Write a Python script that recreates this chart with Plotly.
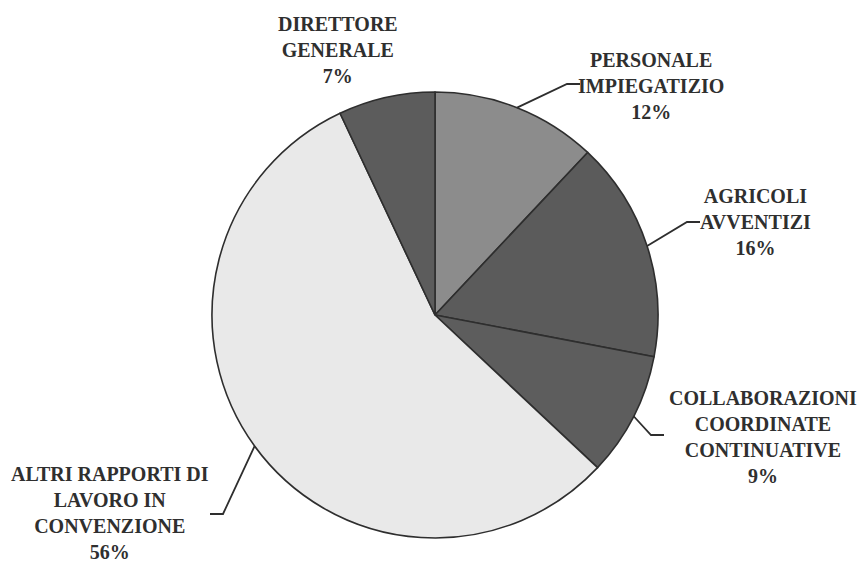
import math
import plotly.graph_objects as go

# ---- data ----
categories = ["PERSONALE IMPIEGATIZIO", "AGRICOLI AVVENTIZI",
              "COLLABORAZIONI COORDINATE CONTINUATIVE",
              "ALTRI RAPPORTI DI LAVORO IN CONVENZIONE", "DIRETTORE GENERALE"]
values = [12, 16, 9, 56, 7]
label_lines = [
    ["PERSONALE", "IMPIEGATIZIO"],
    ["AGRICOLI", "AVVENTIZI"],
    ["COLLABORAZIONI", "COORDINATE", "CONTINUATIVE"],
    ["ALTRI RAPPORTI DI", "LAVORO IN", "CONVENZIONE"],
    ["DIRETTORE", "GENERALE"],
]
colors = ["#8c8c8c", "#5b5b5b", "#5d5d5d", "#e9e9e9", "#5c5c5c"]

# ---- layout (pixels) ----
W, H = 861, 564
CX, CY, R = 435, 315, 223
# label block centres
label_pos = [(651, 86), (755, 222), (763, 437), (110, 513), (338, 50)]
# leader elbow and end (None = no leader)
leaders = [((567, 84), (580, 84)),
           ((687, 222), (700, 222)),
           ((651, 435), (664, 435)),
           ((223, 514), (210, 514)),
           None]

def px(x):
    return x / W

def py(y):
    return 1 - y / H

fig = go.Figure(go.Pie(
    labels=categories, values=values, sort=False, direction="clockwise",
    rotation=0, marker=dict(colors=colors, line=dict(color="#2e2e2e", width=1.6)),
    textinfo="none", hoverinfo="skip", showlegend=False,
    domain=dict(x=[px(CX - R), px(CX + R)], y=[py(CY + R), py(CY - R)]),
))

total = sum(values)
cum = 0
annotations = []
shapes = []
for i, v in enumerate(values):
    mid = (cum + v / 2) / total * 2 * math.pi
    cum += v
    sx = CX + R * math.sin(mid)
    sy = CY - R * math.cos(mid)
    pct = round(v / total * 100)
    lines = label_lines[i] + [f"{pct}%"]
    text = "<br>".join(f"<b>{ln}</b>" for ln in lines)
    lx, ly = label_pos[i]
    annotations.append(dict(
        x=px(lx), y=py(ly), xref="paper", yref="paper", text=text,
        showarrow=False, xanchor="center", yanchor="middle", align="center",
        font=dict(family="Liberation Serif", size=20, color="#2f2f2f"),
    ))
    if leaders[i] is not None:
        (ex, ey), (fx, fy) = leaders[i]
        shapes.append(dict(
            type="path", xref="paper", yref="paper",
            path=f"M {px(sx)} {py(sy)} L {px(ex)} {py(ey)} L {px(fx)} {py(fy)}",
            line=dict(color="#2e2e2e", width=1.8),
        ))

fig.update_layout(
    width=W, height=H, margin=dict(l=0, r=0, t=0, b=0),
    paper_bgcolor="white", plot_bgcolor="white",
    annotations=annotations, shapes=shapes,
)
fig.write_html("out.html", config={"displayModeBar": False},
               post_script="document.body.style.margin='0';")
